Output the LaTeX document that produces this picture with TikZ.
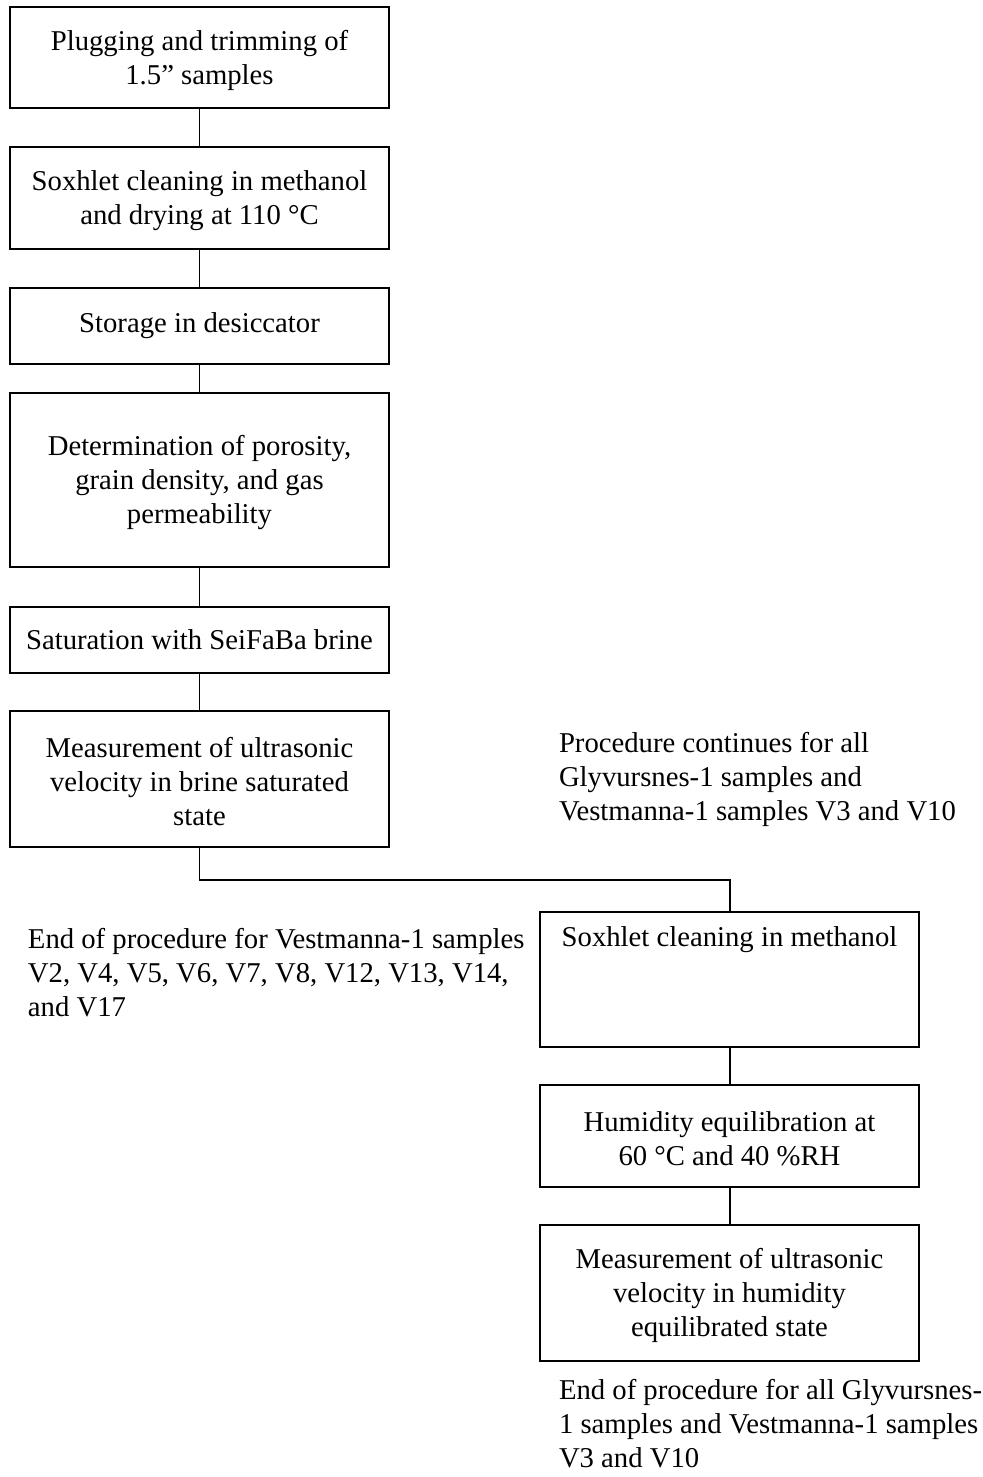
\documentclass[tikz,border=0pt]{standalone}
\usepackage{fontspec}
\setmainfont{Liberation Serif}
\newcommand\pxu{0.4286pt}
\newcommand\figfont{\fontsize{12.3}{14.57}\selectfont}
\newcommand\tstrut{\rule{0pt}{11pt}}
\begin{document}
\begin{tikzpicture}[x=0.4286pt, y=-0.4286pt, line width=0.85pt,
  every node/.style={font=\figfont},
  stepbox/.style={draw, rectangle, inner sep=0pt, align=center, minimum width=379*\pxu},
  note/.style={inner sep=0pt, align=left, anchor=north west},
  link/.style={draw, line width=0.85pt}]
\useasboundingbox (0,0) rectangle (982,1477);
% left column
\node[stepbox, minimum height=101*\pxu] (b1) at (199.5,57.5) {\tstrut Plugging and trimming of\\1.5” samples};
\node[stepbox, minimum height=102*\pxu] (b2) at (199.5,198) {\tstrut Soxhlet cleaning in methanol\\and drying at 110 °C};
\node[stepbox, minimum height=76*\pxu] (b3) at (199.5,326) {Storage in desiccator};
\node[stepbox, minimum height=174*\pxu] (b4) at (199.5,480) {\tstrut Determination of porosity,\\grain density, and gas\\permeability};
\node[stepbox, minimum height=66*\pxu] (b5) at (199.5,640) {Saturation with SeiFaBa brine};
\node[stepbox, minimum height=136*\pxu] (b6) at (199.5,779) {\tstrut Measurement of ultrasonic\\velocity in brine saturated\\state};
% right column
\node[stepbox, minimum height=135*\pxu] (b7) at (729.5,979.5) {Soxhlet cleaning in methanol\\~\\\rule[-7.7pt]{0pt}{0pt}~};
\node[stepbox, minimum height=102*\pxu] (b8) at (729.5,1136) {\tstrut Humidity equilibration at\\60 °C and 40 \%RH};
\node[stepbox, minimum height=136*\pxu] (b9) at (729.5,1293) {\tstrut Measurement of ultrasonic\\velocity in humidity\\equilibrated state};
% notes
\node[note] (n1) at (558,731) {Procedure continues for all\\Glyvursnes-1 samples and\\Vestmanna-1 samples V3 and V10};
\node[note] (n2) at (27,927) {End of procedure for Vestmanna-1 samples\\V2, V4, V5, V6, V7, V8, V12, V13, V14,\\and V17};
\node[note] (n3) at (558,1378) {End of procedure for all Glyvursnes-\\1 samples and Vestmanna-1 samples\\V3 and V10};
% connectors
\draw[link] (b1.south) -- (b2.north);
\draw[link] (b2.south) -- (b3.north);
\draw[link] (b3.south) -- (b4.north);
\draw[link] (b4.south) -- (b5.north);
\draw[link] (b5.south) -- (b6.north);
\draw[link] (b6.south) -- ++(0,32) -| (b7.north);
\draw[link] (b7.south) -- (b8.north);
\draw[link] (b8.south) -- (b9.north);
\end{tikzpicture}
\end{document}
